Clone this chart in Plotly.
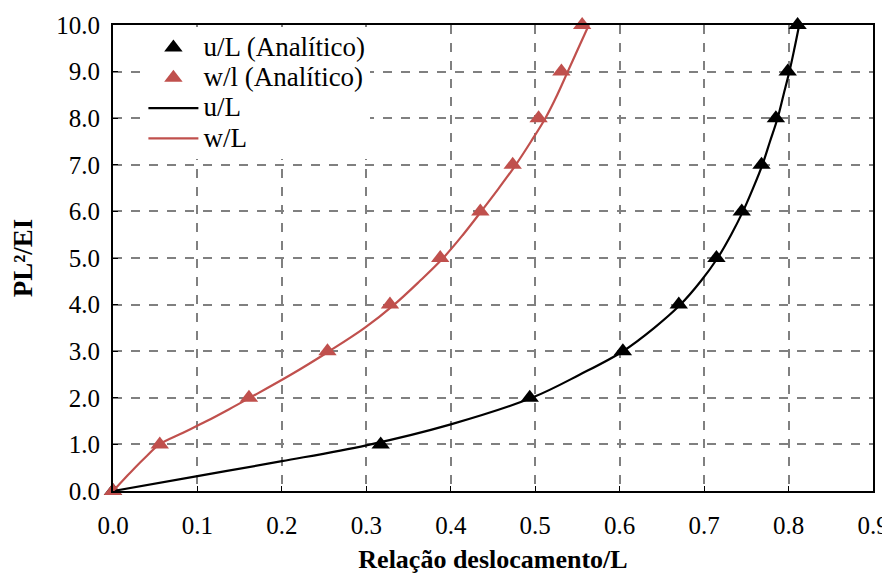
import plotly.graph_objects as go

# Analytical points (markers)
load_pts = [0, 1, 2, 3, 4, 5, 6, 7, 8, 9, 10]
u_analytic = [0, 0.317, 0.4935, 0.6038, 0.670, 0.7146, 0.7446, 0.768, 0.785, 0.799, 0.8107]
w_analytic = [0, 0.0554, 0.161, 0.254, 0.328, 0.3875, 0.435, 0.4733, 0.504, 0.531, 0.5556]

# Numerical curves (lines)
u_line_y = [0, 0.32, 0.64, 0.98, 1.43, 2.0, 2.5, 3.0, 3.5, 4.0, 4.5, 5.0, 5.5, 6.0, 6.5, 7.0, 7.5, 8.0, 8.5, 9.0, 9.5, 10.0]
u_line_x = [0, 0.1, 0.2, 0.3, 0.4, 0.496, 0.553, 0.604, 0.641, 0.672, 0.696, 0.716, 0.732, 0.746, 0.758, 0.769, 0.778, 0.787, 0.794, 0.801, 0.807, 0.8126]
w_line_y = [0, 0.25, 0.5, 0.75, 1.0, 1.25, 1.5, 1.75, 2.0, 2.5, 3.0, 3.5, 4.0, 4.5, 5.0, 5.5, 6.0, 6.5, 7.0, 7.5, 8.0, 8.5, 9.0, 9.5, 10.0]
w_line_x = [0, 0.013, 0.026, 0.040, 0.055, 0.083, 0.111, 0.137, 0.162, 0.211, 0.256, 0.298, 0.333, 0.363, 0.391, 0.4145, 0.436, 0.457, 0.477, 0.495, 0.512, 0.526, 0.5385, 0.551, 0.5635]

legend_names = ["u/L (Analítico)", "w/l (Analítico)", "u/L", "w/L"]

RED = "#C0504D"
BLACK = "#000000"
FONT = "Liberation Serif"


def lg(name):
    return '<span style="font-size:27px">' + name + "</span>"


fig = go.Figure()
fig.add_trace(go.Scatter(x=u_analytic, y=load_pts, mode="markers", name=lg(legend_names[0]),
                         marker=dict(symbol="triangle-up", size=16, color=BLACK), cliponaxis=False))
fig.add_trace(go.Scatter(x=w_analytic, y=load_pts, mode="markers", name=lg(legend_names[1]),
                         marker=dict(symbol="triangle-up", size=16, color=RED), cliponaxis=False))
fig.add_trace(go.Scatter(x=u_line_x, y=u_line_y, mode="lines", name=lg(legend_names[2]),
                         line=dict(color=BLACK, width=2.2, shape="spline", smoothing=1.0)))
fig.add_trace(go.Scatter(x=w_line_x, y=w_line_y, mode="lines", name=lg(legend_names[3]),
                         line=dict(color=RED, width=2.2, shape="spline", smoothing=1.0)))

axis_common = dict(
    showline=True, linecolor="black", linewidth=2, mirror=True,
    showgrid=True, gridcolor="#808080", gridwidth=1.5, griddash="dash",
    ticks="inside", ticklen=5, tickcolor="black", tickwidth=1,
    zeroline=False, tickformat=".1f", automargin=False,
    tickfont=dict(family=FONT, size=25, color="black"),
)

fig.update_xaxes(range=[0, 0.9], dtick=0.1, tick0=0, ticklabelstandoff=11,
                 title=dict(text="<b>Relação deslocamento/L</b>", font=dict(family=FONT, size=26, color="black"), standoff=35),
                 **axis_common)
fig.update_yaxes(range=[0, 10], dtick=1, tick0=0, ticklabelstandoff=6,
                 title=dict(text="<b>PL²/EI</b>", font=dict(family=FONT, size=27, color="black"), standoff=25),
                 **axis_common)

# page body adds an 8px offset, so the figure is 8px smaller and margins shifted
fig.update_layout(
    width=882, height=566,
    margin=dict(l=105, r=17, t=17, b=83),
    plot_bgcolor="white", paper_bgcolor="white",
    font=dict(family=FONT, size=25, color="black"),
    legend=dict(x=0.04, y=0.995, xanchor="left", yanchor="top", bgcolor="white",
                borderwidth=0, itemwidth=50, font=dict(family=FONT, size=21, color="black"),
                tracegroupgap=0),
    showlegend=True,
)

fig.write_html("out.html")
